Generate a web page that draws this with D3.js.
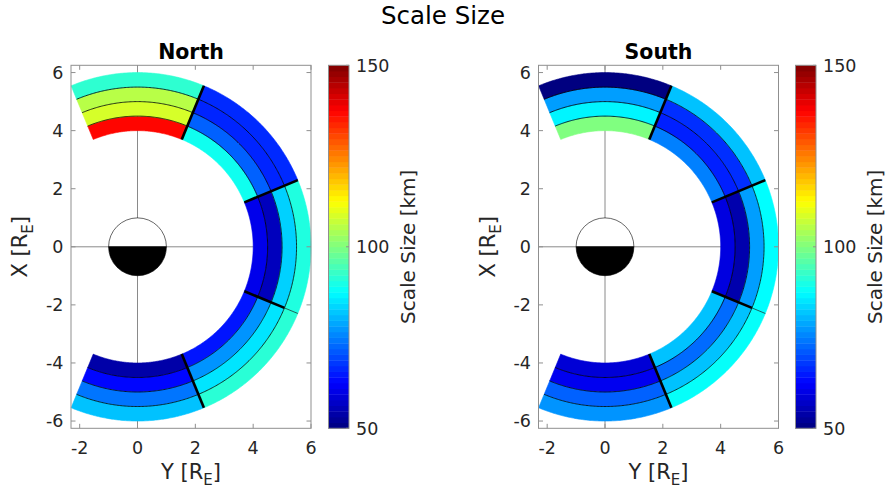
<!DOCTYPE html>
<html><head><meta charset="utf-8">
<script src="https://cdn.jsdelivr.net/npm/d3@7"></script>
<style>body{margin:0;background:#fff} svg{display:block;font-family:"DejaVu Sans",sans-serif}</style>
</head><body><svg id="c" width="886" height="495"></svg>
<script>
// ---------- data ----------
const figureTitle = "Scale Size";
const panelNames = ["North", "South"];
const sectorStarts = [-22.5, 22.5, 67.5, 112.5, 157.5]; // degrees clockwise from +X
const sectorWidth = 45;
const ringEdges = [4, 4.5, 5, 5.5, 6];
// values[sector][ring] (ring 0 = innermost), km
const northValues = [
  [137, 108.5, 105.5, 92],
  [89, 72, 66, 66.5],
  [60.5, 56, 83, 90.5],
  [64.5, 77, 85, 91.5],
  [54, 63, 74, 81.5]
];
const southValues = [
  [100, 86.5, 78, 50],
  [75, 65.5, 67, 81.5],
  [59.5, 54.5, 78, 87.5],
  [81.5, 73, 81.5, 88],
  [58.5, 61, 72, 77]
];
const boundaryAngles = [22.5, 67.5, 112.5, 157.5];
const boundaryThickOuter = [6, 6, 5.5, 6];
const xTicks = [-2, 0, 2, 4, 6];
const yTicks = [-6, -4, -2, 0, 2, 4, 6];
const cbTicks = [50, 100, 150];
const colorDomain = [50, 150];
const xDomain = [-2.3, 6];
const yDomain = [-6.25, 6.25];

// ---------- helpers ----------
function jet(t) {
  t = Math.max(0, Math.min(1, t));
  const f = x => Math.max(0, Math.min(1, x));
  const r = f(Math.min(4 * t - 1.5, -4 * t + 4.5));
  const g = f(Math.min(4 * t - 0.5, -4 * t + 3.5));
  const b = f(Math.min(4 * t + 0.5, -4 * t + 2.5));
  return d3.rgb(Math.round(r * 255), Math.round(g * 255), Math.round(b * 255)).toString();
}
const cnorm = d3.scaleLinear().domain(colorDomain).range([0, 1]).clamp(true);
const color = v => jet(cnorm(v));
const rad = d => d * Math.PI / 180;
const txtColor = "#262626", axColor = "#8f8f8f";

const svg = d3.select("#c");
svg.append("text").attr("x", 443).attr("y", 24).attr("text-anchor", "middle")
  .attr("font-size", 24.5).attr("fill", "#000").text(figureTitle);

const panels = [
  {name: panelNames[0], values: northValues, left: 71, right: 311, cbx: 328.5},
  {name: panelNames[1], values: southValues, left: 538.5, right: 778.5, cbx: 795.5}
];
const axTop = 65.3, axBottom = 428.3, cbw = 20.5;

panels.forEach(p => {
  const xs = d3.scaleLinear().domain(xDomain).range([p.left, p.right]);
  const ys = d3.scaleLinear().domain(yDomain).range([axBottom, axTop]);
  const g = svg.append("g");
  const pt = (r, a) => [xs(r * Math.sin(rad(a))), ys(r * Math.cos(rad(a)))];
  const line = d3.line();

  // crosshair
  g.append("line").attr("x1", xs(xDomain[0])).attr("x2", xs(xDomain[1])).attr("y1", ys(0)).attr("y2", ys(0))
    .attr("stroke", "#8a8a8a").attr("stroke-width", 1);
  g.append("line").attr("x1", xs(0)).attr("x2", xs(0)).attr("y1", ys(yDomain[0])).attr("y2", ys(yDomain[1]))
    .attr("stroke", "#8a8a8a").attr("stroke-width", 1);

  // cells
  const cells = [];
  p.values.forEach((ringVals, si) => ringVals.forEach((v, ri) => cells.push({si, ri, v})));
  g.selectAll("path.cell").data(cells).join("path").attr("class", "cell")
    .attr("d", d => {
      const a0 = sectorStarts[d.si], a1 = a0 + sectorWidth;
      const r0 = ringEdges[d.ri], r1 = ringEdges[d.ri + 1];
      const pts = [];
      for (let a = a0; a <= a1 + 1e-9; a += 0.5) pts.push(pt(r1, a));
      for (let a = a1; a >= a0 - 1e-9; a -= 0.5) pts.push(pt(r0, a));
      return line(pts) + "Z";
    })
    .attr("fill", d => color(d.v)).attr("stroke", d => color(d.v)).attr("stroke-width", 0.6);

  // ring separators
  const aStart = sectorStarts[0], aEnd = sectorStarts[sectorStarts.length - 1] + sectorWidth;
  g.selectAll("path.ring").data(ringEdges.slice(1, -1)).join("path").attr("class", "ring")
    .attr("d", r => {
      const pts = [];
      for (let a = aStart; a <= aEnd + 1e-9; a += 0.5) pts.push(pt(r, a));
      return line(pts);
    }).attr("fill", "none").attr("stroke", "#000").attr("stroke-width", 0.8);

  // sector boundaries
  boundaryAngles.forEach((a, i) => {
    const rIn = ringEdges[0], rOut = ringEdges[ringEdges.length - 1], rT = boundaryThickOuter[i];
    g.append("path").attr("d", line([pt(rIn, a), pt(rT, a)])).attr("stroke", "#000").attr("stroke-width", 2.6);
    if (rT < rOut) g.append("path").attr("d", line([pt(rT, a), pt(rOut, a)])).attr("stroke", "#1a3a3a").attr("stroke-width", 0.8);
  });

  // Earth
  const R = xs(1) - xs(0);
  const cx = xs(0), cy = ys(0);
  g.append("path").attr("d", `M${cx - R},${cy} A${R},${R} 0 0 1 ${cx + R},${cy} Z`)
    .attr("fill", "#fff").attr("stroke", "#000").attr("stroke-width", 0.6);
  g.append("path").attr("d", `M${cx - R},${cy} A${R},${R} 0 0 0 ${cx + R},${cy} Z`)
    .attr("fill", "#000").attr("stroke", "#000").attr("stroke-width", 0.6);

  // axes box
  g.append("rect").attr("x", p.left).attr("y", axTop).attr("width", p.right - p.left).attr("height", axBottom - axTop)
    .attr("fill", "none").attr("stroke", axColor).attr("stroke-width", 1);
  const tl = 4.5;
  xTicks.forEach(t => {
    g.append("line").attr("x1", xs(t)).attr("x2", xs(t)).attr("y1", axBottom).attr("y2", axBottom - tl).attr("stroke", axColor);
    g.append("line").attr("x1", xs(t)).attr("x2", xs(t)).attr("y1", axTop).attr("y2", axTop + tl).attr("stroke", axColor);
    g.append("text").attr("x", xs(t)).attr("y", 453.5).attr("text-anchor", "middle")
      .attr("font-size", 17.5).attr("fill", txtColor).text(t);
  });
  yTicks.forEach(t => {
    g.append("line").attr("y1", ys(t)).attr("y2", ys(t)).attr("x1", p.left).attr("x2", p.left + tl).attr("stroke", axColor);
    g.append("line").attr("y1", ys(t)).attr("y2", ys(t)).attr("x1", p.right).attr("x2", p.right - tl).attr("stroke", axColor);
    g.append("text").attr("x", p.left - 7.5).attr("y", ys(t)).attr("dy", "0.36em").attr("text-anchor", "end")
      .attr("font-size", 17.5).attr("fill", txtColor).text(t);
  });

  // labels
  const xl = g.append("text").attr("x", (p.left + p.right) / 2).attr("y", 479).attr("text-anchor", "middle")
    .attr("font-size", 21).attr("fill", txtColor);
  xl.append("tspan").text("Y [R");
  xl.append("tspan").attr("font-size", 15).attr("dy", 6).text("E");
  xl.append("tspan").attr("dy", -6).text("]");
  const yl = g.append("text").attr("transform", `translate(${p.left - 44},${(axTop + axBottom) / 2}) rotate(-90)`)
    .attr("text-anchor", "middle").attr("font-size", 21).attr("fill", txtColor);
  yl.append("tspan").text("X [R");
  yl.append("tspan").attr("font-size", 15).attr("dy", 6).text("E");
  yl.append("tspan").attr("dy", -6).text("]");

  g.append("text").attr("x", (p.left + p.right) / 2).attr("y", 59).attr("text-anchor", "middle")
    .attr("font-size", 20.5).attr("font-weight", "bold").attr("fill", "#000").text(p.name);

  // colorbar
  const cs = d3.scaleLinear().domain(colorDomain).range([axBottom, axTop]);
  const nSteps = 64;
  const steps = d3.range(nSteps);
  g.selectAll("rect.cb").data(steps).join("rect").attr("class", "cb")
    .attr("x", p.cbx).attr("width", cbw)
    .attr("y", i => cs(colorDomain[0] + (i + 1) * (colorDomain[1] - colorDomain[0]) / nSteps))
    .attr("height", (axBottom - axTop) / nSteps + 0.4)
    .attr("fill", i => jet((i + 0.5) / nSteps));
  g.append("rect").attr("x", p.cbx).attr("y", axTop).attr("width", cbw).attr("height", axBottom - axTop)
    .attr("fill", "none").attr("stroke", axColor).attr("stroke-width", 1);
  cbTicks.forEach(t => {
    g.append("line").attr("x1", p.cbx + cbw).attr("x2", p.cbx + cbw - 3).attr("y1", cs(t)).attr("y2", cs(t)).attr("stroke", axColor);
    g.append("text").attr("x", p.cbx + cbw + 7).attr("y", cs(t)).attr("dy", "0.36em")
      .attr("font-size", 17.5).attr("fill", txtColor).text(t);
  });
  g.append("text").attr("transform", `translate(${p.cbx + cbw + 66},${(axTop + axBottom) / 2}) rotate(-90)`)
    .attr("text-anchor", "middle").attr("font-size", 20).attr("fill", txtColor).text("Scale Size [km]");
});
</script></body></html>
